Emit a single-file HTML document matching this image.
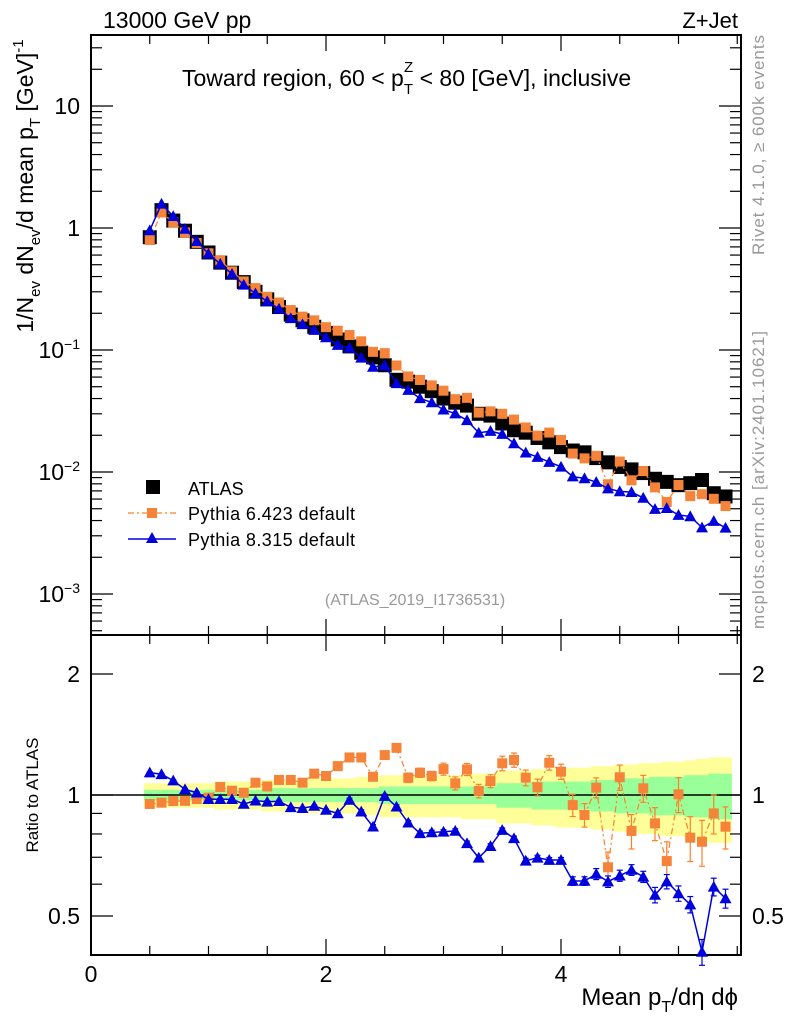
<!DOCTYPE html>
<html><head><meta charset="utf-8"><style>
body{margin:0;background:#fff;}
svg{display:block;font-family:"Liberation Sans",sans-serif;}
</style></head><body>
<svg id="chart" width="786" height="1024" viewBox="0 0 786 1024">
</svg>
<script>
const xs = [0.5,0.6,0.7,0.8,0.9,1.0,1.1,1.2,1.3,1.4,1.5,1.6,1.7,1.8,1.9,2.0,2.1,2.2,2.3,2.4,2.5,2.6,2.7,2.8,2.9,3.0,3.1,3.2,3.3,3.4,3.5,3.6,3.7,3.8,3.9,4.0,4.1,4.2,4.3,4.4,4.5,4.6,4.7,4.8,4.9,5.0,5.1,5.2,5.3,5.4];
const atlas = [0.84,1.40,1.15,0.95,0.77,0.63,0.52,0.43,0.36,0.30,0.26,0.225,0.195,0.175,0.155,0.138,0.122,0.107,0.095,0.087,0.075,0.057,0.055,0.050,0.046,0.040,0.037,0.035,0.030,0.029,0.025,0.022,0.021,0.019,0.0175,0.016,0.015,0.0145,0.013,0.012,0.011,0.0105,0.0098,0.0088,0.0083,0.0078,0.0081,0.0086,0.0067,0.0063];
const ratioPy6 = [0.95,0.957,0.966,0.967,0.977,0.985,1.047,1.025,1.013,1.073,1.05,1.09,1.09,1.073,1.13,1.115,1.18,1.24,1.24,1.11,1.257,1.31,1.104,1.136,1.115,1.16,1.069,1.158,1.023,1.083,1.199,1.222,1.104,1.045,1.203,1.143,0.944,0.892,1.043,0.661,1.107,0.814,1.039,0.85,0.685,1.004,0.783,0.765,0.9,0.834];
const ratioPy8 = [1.137,1.126,1.086,1.033,1.013,0.976,0.976,0.976,0.95,0.968,0.962,0.965,0.932,0.927,0.939,0.918,0.9,0.972,0.909,0.834,0.994,0.935,0.853,0.803,0.807,0.81,0.814,0.758,0.698,0.746,0.818,0.78,0.686,0.698,0.689,0.689,0.611,0.611,0.636,0.609,0.63,0.651,0.626,0.564,0.609,0.569,0.534,0.407,0.591,0.553];
const errPy6 = [0.01,0.01,0.01,0.01,0.01,0.01,0.01,0.01,0.01,0.01,0.01,0.01,0.01,0.01,0.01,0.01,0.015,0.02,0.02,0.02,0.02,0.03,0.03,0.03,0.03,0.04,0.04,0.04,0.04,0.04,0.05,0.05,0.05,0.05,0.05,0.05,0.06,0.06,0.06,0.06,0.08,0.08,0.08,0.08,0.08,0.1,0.1,0.1,0.1,0.1];
const errPy8 = [0.005,0.005,0.005,0.005,0.005,0.005,0.005,0.005,0.005,0.005,0.005,0.005,0.005,0.005,0.005,0.005,0.005,0.01,0.01,0.01,0.01,0.01,0.01,0.01,0.01,0.01,0.01,0.01,0.01,0.01,0.01,0.01,0.01,0.01,0.01,0.01,0.015,0.015,0.02,0.02,0.02,0.02,0.02,0.025,0.025,0.025,0.025,0.03,0.03,0.03];
const bandStat = [0.03,0.03,0.03,0.03,0.03,0.03,0.03,0.03,0.03,0.03,0.04,0.04,0.04,0.04,0.04,0.04,0.04,0.04,0.04,0.04,0.05,0.05,0.05,0.05,0.05,0.05,0.05,0.05,0.05,0.05,0.07,0.07,0.07,0.08,0.08,0.08,0.08,0.08,0.09,0.09,0.1,0.1,0.1,0.11,0.11,0.11,0.12,0.12,0.13,0.13];
const bandTot = [0.07,0.07,0.07,0.07,0.07,0.07,0.08,0.08,0.08,0.08,0.09,0.09,0.09,0.09,0.1,0.1,0.1,0.1,0.11,0.11,0.12,0.12,0.12,0.12,0.12,0.12,0.12,0.13,0.13,0.13,0.15,0.15,0.15,0.16,0.16,0.17,0.17,0.17,0.18,0.18,0.19,0.19,0.2,0.2,0.21,0.21,0.22,0.23,0.24,0.24];
const xTicks = [0,2,4];
const mainTicks = [10,1,0.1,0.01,0.001];
const mainTickLabels = ["10","1","10<tspan dy='-9' font-size='14'>\u22121</tspan>","10<tspan dy='-9' font-size='14'>\u22122</tspan>","10<tspan dy='-9' font-size='14'>\u22123</tspan>"];
const ratioTicks = [0.5,1,2];
const ratioTickLabels = ["0.5","1","2"];

const L=91,R=741,T=35,MB=635,B=955;
const X=v=>L+v*117.5;
const Y=v=>228-122*Math.log10(v);
const YR=v=>795-402*Math.log10(v);
const svg=document.getElementById('chart');
const NS='http://www.w3.org/2000/svg';
function mk(tag,attrs,parent){const e=document.createElementNS(NS,tag);for(const k in attrs)e.setAttribute(k,attrs[k]);(parent||svg).appendChild(e);return e;}
function txt(x,y,s,attrs,parent){const e=mk('text',Object.assign({x:x,y:y,'font-size':20,fill:'#000'},attrs),parent);e.innerHTML=s;return e;}

const gY=mk('g',{});


const gG=mk('g',{});


xs.forEach((x,i)=>{
  const x0=X(x-0.05),x1=X(x+0.05);
  mk('rect',{x:x0,y:YR(1+bandTot[i]),width:x1-x0+0.5,height:YR(1-bandTot[i])-YR(1+bandTot[i]),fill:'#ffff99'},gY);
  mk('rect',{x:x0,y:YR(1+bandStat[i]),width:x1-x0+0.5,height:YR(1-bandStat[i])-YR(1+bandStat[i]),fill:'#99ff99'},gG);
});
const oneLine=mk('line',{x1:L,x2:R,y1:YR(1),y2:YR(1),stroke:'#000','stroke-width':1.5});



const f1=mk('rect',{x:L,y:T,width:R-L,height:MB-T,fill:'none',stroke:'#000','stroke-width':2});


const f2=mk('rect',{x:L,y:MB,width:R-L,height:B-MB,fill:'none',stroke:'#000','stroke-width':2});



const gx=mk('g',{stroke:'#000','stroke-width':1.2});


for(let v=0;v<=5.5;v+=0.5){
  const major=Math.abs(v-Math.round(v/2)*2)<1e-6;
  const len=major?16:9;
  mk('line',{x1:X(v),x2:X(v),y1:B,y2:B-len},gx);
  mk('line',{x1:X(v),x2:X(v),y1:MB,y2:MB-len},gx);
  mk('line',{x1:X(v),x2:X(v),y1:MB,y2:MB+len},gx);
  mk('line',{x1:X(v),x2:X(v),y1:T,y2:T+len},gx);
}
xTicks.forEach(v=>{const t=txt(X(v),982,String(v),{'text-anchor':'middle','font-size':23});

});

const gy=mk('g',{stroke:'#000','stroke-width':1.2});


for(let d=-4;d<=1;d++){for(let m=1;m<=9;m++){const v=m*Math.pow(10,d);const y=Y(v);if(y<T||y>MB)continue;const len=m==1?22:11;
mk('line',{x1:L,x2:L+len,y1:y,y2:y},gy);mk('line',{x1:R,x2:R-len,y1:y,y2:y},gy);}}
mainTicks.forEach((v,i)=>{const t=txt(80,Y(v)+8,mainTickLabels[i],{'text-anchor':'end','font-size':23});

});

const gr=mk('g',{stroke:'#000','stroke-width':1.2});


[0.4,0.5,0.6,0.7,0.8,0.9,1,2].forEach(v=>{const y=YR(v);const len=(v==1||v==2||v==0.5)?22:11;mk('line',{x1:L,x2:L+len,y1:y,y2:y},gr);mk('line',{x1:R,x2:R-len,y1:y,y2:y},gr);});
ratioTicks.forEach((v,i)=>{const t=txt(80,YR(v)+8,ratioTickLabels[i],{'text-anchor':'end','font-size':23});


const t2=txt(752,YR(v)+8,ratioTickLabels[i],{'font-size':23});

});

const py6=xs.map((x,i)=>atlas[i]*ratioPy6[i]);
const py8=xs.map((x,i)=>atlas[i]*ratioPy8[i]);
function tri(x,y,s,fill,parent){return mk('polygon',{points:`${x},${y-s} ${x-s},${y+s*0.8} ${x+s},${y+s*0.8}`,fill:fill},parent);}

const gA=mk('g',{});


xs.forEach((x,i)=>{const r=mk('rect',{x:X(x)-7,y:Y(atlas[i])-7,width:14,height:14,fill:'#000'},gA);

});

const g6=mk('g',{});


mk('polyline',{points:xs.map((x,i)=>X(x)+','+Y(py6[i])).join(' '),fill:'none',stroke:'#ff7f2a','stroke-width':1.2,'stroke-dasharray':'6,3,2,3'},g6);
xs.forEach((x,i)=>{const r=mk('rect',{x:X(x)-5,y:Y(py6[i])-5,width:10,height:10,fill:'#f5843a'},g6);

});

const g8=mk('g',{});


mk('polyline',{points:xs.map((x,i)=>X(x)+','+Y(py8[i])).join(' '),fill:'none',stroke:'#0000dd','stroke-width':1.5},g8);
xs.forEach((x,i)=>{const p=tri(X(x),Y(py8[i]),6,'#0000dd',g8);

});

const r6=mk('g',{});


mk('polyline',{points:xs.map((x,i)=>X(x)+','+YR(ratioPy6[i])).join(' '),fill:'none',stroke:'#ff7f2a','stroke-width':1.2,'stroke-dasharray':'6,3,2,3'},r6);
xs.forEach((x,i)=>{const cx=X(x),y1=YR(ratioPy6[i]+errPy6[i]),y2=YR(ratioPy6[i]-errPy6[i]);
mk('line',{x1:cx,x2:cx,y1:y1,y2:y2,stroke:'#ff7f2a','stroke-width':1.2},r6);
mk('line',{x1:cx-3,x2:cx+3,y1:y1,y2:y1,stroke:'#ff7f2a','stroke-width':1.2},r6);
mk('line',{x1:cx-3,x2:cx+3,y1:y2,y2:y2,stroke:'#ff7f2a','stroke-width':1.2},r6);
const r=mk('rect',{x:cx-5,y:YR(ratioPy6[i])-5,width:10,height:10,fill:'#f5843a'},r6);

});

const r8=mk('g',{});


mk('polyline',{points:xs.map((x,i)=>X(x)+','+YR(ratioPy8[i])).join(' '),fill:'none',stroke:'#0000dd','stroke-width':1.5},r8);
xs.forEach((x,i)=>{const cx=X(x),y1=YR(ratioPy8[i]+errPy8[i]),y2=YR(ratioPy8[i]-errPy8[i]);
mk('line',{x1:cx,x2:cx,y1:y1,y2:y2,stroke:'#0000dd','stroke-width':1.2},r8);
mk('line',{x1:cx-3,x2:cx+3,y1:y1,y2:y1,stroke:'#0000dd','stroke-width':1.2},r8);
mk('line',{x1:cx-3,x2:cx+3,y1:y2,y2:y2,stroke:'#0000dd','stroke-width':1.2},r8);
const p=tri(cx,YR(ratioPy8[i]),6,'#0000dd',r8);

});
</script>
<svg width="786" height="1024" viewBox="0 0 786 1024" style="position:absolute;left:0;top:0;font-family:'Liberation Sans',sans-serif">
<text x="103" y="28" font-size="23">13000 GeV pp</text>
<text x="738" y="28" font-size="22" text-anchor="end">Z+Jet</text>
<text x="182" y="86" font-size="23">Toward region, 60 &lt; p<tspan dy="8" font-size="15">T</tspan><tspan dy="-22" dx="-9" font-size="15">Z</tspan><tspan dy="14"> &lt; 80 [GeV], inclusive</tspan></text>
<g>
<rect x="146" y="480" width="14" height="14" fill="#000"/>
<text x="188" y="495" font-size="18">ATLAS</text>
<line x1="128" x2="176" y1="513" y2="513" stroke="#ff7f2a" stroke-width="1.2" stroke-dasharray="6,3,2,3"/>
<rect x="147" y="508" width="10" height="10" fill="#f5843a"/>
<text x="188" y="520" font-size="18" textLength="167">Pythia 6.423 default</text>
<line x1="128" x2="176" y1="539" y2="539" stroke="#0000dd" stroke-width="1.5"/>
<polygon points="152,532 146,543 158,543" fill="#0000dd"/>
<text x="188" y="546" font-size="18" textLength="167">Pythia 8.315 default</text>
</g>
<text x="415" y="605" font-size="16" fill="#999" text-anchor="middle">(ATLAS_2019_I1736531)</text>
<text transform="translate(33,186) rotate(-90)" font-size="23" text-anchor="middle">1/N<tspan dy="7" font-size="15">ev</tspan><tspan dy="-7"> dN</tspan><tspan dy="7" font-size="15">ev</tspan><tspan dy="-7">/d mean p</tspan><tspan dy="7" font-size="15">T</tspan><tspan dy="-7"> [GeV]</tspan><tspan dy="-10" font-size="15">-1</tspan></text>
<text transform="translate(38,795) rotate(-90)" font-size="17" text-anchor="middle">Ratio to ATLAS</text>
<text x="738" y="1005" font-size="24" text-anchor="end">Mean p<tspan dy="7" font-size="16">T</tspan><tspan dy="-7">/dη dϕ</tspan></text>
<text transform="translate(764,145) rotate(-90)" font-size="17" fill="#999" text-anchor="middle" textLength="220">Rivet 4.1.0, ≥ 600k events</text>
<text transform="translate(764,480) rotate(-90)" font-size="17" fill="#999" text-anchor="middle" textLength="298">mcplots.cern.ch [arXiv:2401.10621]</text>
</svg>
</body></html>
